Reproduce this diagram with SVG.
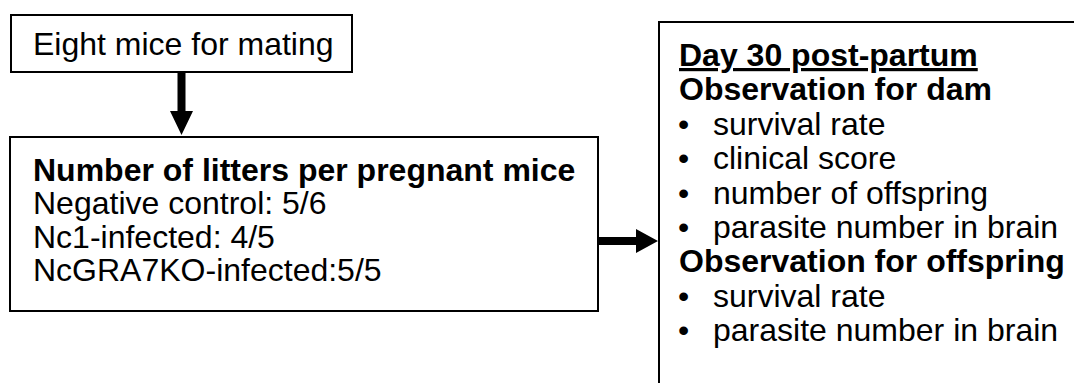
<svg xmlns="http://www.w3.org/2000/svg" width="1074" height="383" viewBox="0 0 1074 383">
  <style>
    .box { fill: #fff; stroke: #000; stroke-width: 2; }
    .t { font-family: "Liberation Sans", Arial, sans-serif; font-size: 32px; fill: #000; }
    .b { font-weight: bold; }
    .u { text-decoration: underline; }
    .arrow { fill: #000; stroke: none; }
  </style>
  <rect width="1074" height="383" fill="#fff"/>
  <g id="node-mating">
    <rect class="box" x="11" y="15" width="341" height="57"/>
    <text class="t" x="33" y="55">Eight mice for mating</text>
  </g>
  <g id="node-litters">
    <rect class="box" x="10" y="137" width="588" height="174"/>
    <text class="t b" x="33" y="181">Number of litters per pregnant mice</text>
    <text class="t" x="33" y="214">Negative control: 5/6</text>
    <text class="t" x="33" y="248">Nc1-infected: 4/5</text>
    <text class="t" x="33" y="281">NcGRA7KO-infected:5/5</text>
  </g>
  <g id="node-observation">
    <rect class="box" x="659" y="22" width="500" height="500"/>
    <text class="t b u" x="679" y="66">Day 30 post-partum</text>
    <text class="t b" x="679" y="100">Observation for dam</text>
    <text class="t" x="678" y="135">•</text><text class="t" x="713" y="135">survival rate</text>
    <text class="t" x="678" y="169">•</text><text class="t" x="713" y="169">clinical score</text>
    <text class="t" x="678" y="204">•</text><text class="t" x="713" y="204">number of offspring</text>
    <text class="t" x="678" y="238">•</text><text class="t" x="713" y="238">parasite number in brain</text>
    <text class="t b" x="679" y="272">Observation for offspring</text>
    <text class="t" x="678" y="307">•</text><text class="t" x="713" y="307">survival rate</text>
    <text class="t" x="678" y="341">•</text><text class="t" x="713" y="341">parasite number in brain</text>
  </g>
  <g id="connectors">
    <path class="arrow" d="M177.5,72 H185.5 V111 H193 L181.5,135 L170,111 H177.5 Z"/>
    <path class="arrow" d="M598,237 H636 V229 L658,241 L636,253 V245 H598 Z"/>
  </g>
</svg>
